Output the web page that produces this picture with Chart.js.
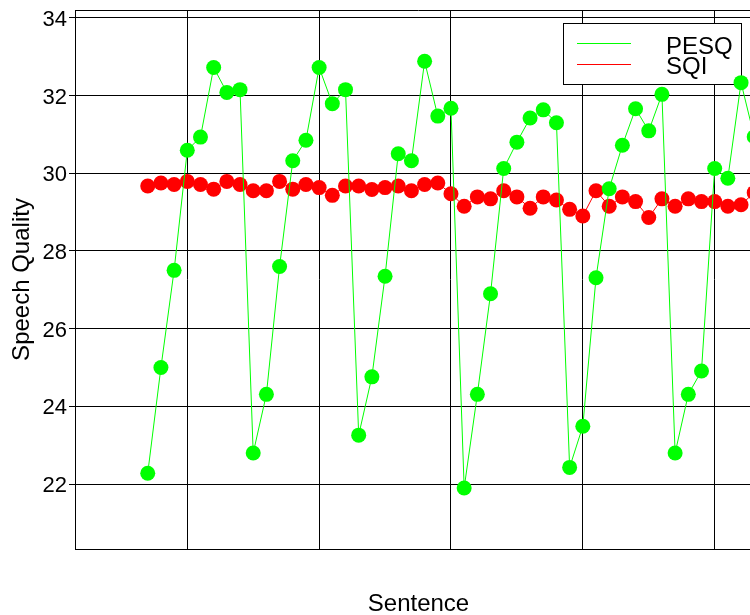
<!DOCTYPE html>
<html>
<head>
<meta charset="utf-8">
<script src="https://cdn.jsdelivr.net/npm/chart.js@4/dist/chart.umd.min.js"></script>
<style>
  html, body { margin: 0; padding: 0; background: #fff; overflow: hidden; }
  #wrap { width: 762px; height: 615px; }
</style>
</head>
<body>
<div id="wrap"><canvas id="myChart" width="762" height="615"></canvas></div>
<script>
// data
const sentences = [7, 8, 9, 10, 11, 12, 13, 14, 15, 16, 17, 18, 19, 20, 21, 22, 23, 24, 25, 26,
  27, 28, 29, 30, 31, 32, 33, 34, 35, 36, 37, 38, 39, 40, 41, 42, 43, 44, 45, 46,
  47, 48, 49, 50, 51, 52, 53];
const pesq = [22.28, 25.0, 27.5, 30.59, 30.93, 32.72, 32.08, 32.15, 22.8, 24.31,
  27.6, 30.32, 30.85, 32.72, 31.79, 32.15, 23.26, 24.76, 27.35, 30.5,
  30.32, 32.88, 31.47, 31.67, 21.9, 24.31, 26.9, 30.12, 30.8, 31.42,
  31.63, 31.3, 22.43, 23.49, 27.31, 29.6, 30.72, 31.66, 31.09, 32.03,
  22.8, 24.31, 24.91, 30.12, 29.87, 32.33, 30.94];
const sqi = [29.67, 29.75, 29.71, 29.79, 29.71, 29.59, 29.79, 29.71, 29.55, 29.55,
  29.79, 29.59, 29.71, 29.63, 29.43, 29.67, 29.67, 29.58, 29.63, 29.67,
  29.55, 29.71, 29.75, 29.47, 29.15, 29.39, 29.34, 29.55, 29.39, 29.1,
  29.39, 29.31, 29.07, 28.9, 29.55, 29.15, 29.39, 29.27, 28.86, 29.34,
  29.15, 29.34, 29.27, 29.27, 29.15, 29.19, 29.5];
const xTicks = [10, 20, 30, 40, 50];
const yTicks = [22, 24, 26, 28, 30, 32, 34];

const FONT = 'Liberation Sans, Arial, sans-serif';

// top frame line + legend box (drawn under the points)
const frameLegend = {
  id: 'frameLegend',
  beforeDatasetsDraw(chart) {
    const c = chart.ctx, a = chart.chartArea;
    c.save();
    c.strokeStyle = '#000';
    c.lineWidth = 1;
    c.beginPath();
    c.moveTo(a.left, a.top + 0.5);
    c.lineTo(a.right, a.top + 0.5);
    c.stroke();

    const bx = 563, by = 23, bw = 178, bh = 61;
    c.fillStyle = '#fff';
    c.fillRect(bx, by, bw, bh);
    c.strokeRect(bx + 0.5, by + 0.5, bw, bh);
    c.font = '24px ' + FONT;
    c.textBaseline = 'alphabetic';
    chart.data.datasets.forEach((ds, i) => {
      const ly = 43 + i * 21;
      c.strokeStyle = ds.borderColor;
      c.beginPath();
      c.moveTo(577, ly + 0.5);
      c.lineTo(631, ly + 0.5);
      c.stroke();
      c.fillStyle = '#000';
      c.fillText(ds.label, 666, 54 + i * 20);
    });
    c.restore();
  }
};

const ctx = document.getElementById('myChart').getContext('2d');
const myChart = new Chart(ctx, {
  type: 'line',
  data: {
    labels: sentences,
    datasets: [{
      label: 'PESQ',
      data: sentences.map((s, i) => ({ x: s, y: pesq[i] })),
      borderColor: '#00ff00',
      backgroundColor: '#00ff00',
      borderWidth: 1,
      pointRadius: 7.5,
      pointBorderWidth: 0,
      pointHoverRadius: 7.5
    }, {
      label: 'SQI',
      data: sentences.map((s, i) => ({ x: s, y: sqi[i] })),
      borderColor: '#ff0000',
      backgroundColor: '#ff0000',
      borderWidth: 1,
      pointRadius: 7.5,
      pointBorderWidth: 0,
      pointHoverRadius: 7.5
    }]
  },
  options: {
    responsive: false,
    animation: false,
    devicePixelRatio: 1,
    layout: { autoPadding: false, padding: { top: 10, left: 0, right: 0, bottom: 0 } },
    plugins: {
      legend: { display: false },
      tooltip: { enabled: false }
    },
    scales: {
      x: {
        type: 'linear',
        min: 1.483,
        max: 53.59,
        afterBuildTicks: s => { s.ticks = xTicks.map(v => ({ value: v })); },
        afterFit: s => { s.height = 66; s.paddingLeft = 0; s.paddingRight = 0; },
        ticks: { display: false },
        grid: { color: '#000', lineWidth: 1, drawTicks: false },
        border: { color: '#000', width: 1 },
        title: {
          display: true,
          text: 'Sentence',
          color: '#000',
          font: { family: FONT, size: 24, lineHeight: 0.9 },
          padding: { top: 0, bottom: 0 }
        }
      },
      y: {
        min: 20.33,
        max: 34.2,
        afterBuildTicks: s => { s.ticks = yTicks.map(v => ({ value: v })); },
        afterFit: s => { s.width = 75; s.paddingTop = 0; s.paddingBottom = 0; },
        ticks: {
          color: '#000',
          padding: 2,
          labelOffset: 2,
          font: { family: FONT, size: 22 }
        },
        grid: { color: '#000', lineWidth: 1, tickLength: 6 },
        border: { color: '#000', width: 1 },
        title: {
          display: true,
          text: 'Speech Quality',
          color: '#000',
          font: { family: FONT, size: 24, lineHeight: 1.2 },
          padding: { top: 8, bottom: 0 }
        }
      }
    }
  },
  plugins: [frameLegend]
});
</script>
</body>
</html>
